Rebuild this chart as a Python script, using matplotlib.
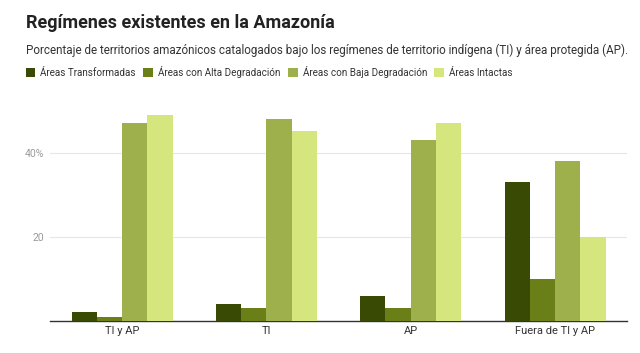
import matplotlib.pyplot as plt
import numpy as np

plt.rcParams['font.family'] = ['Roboto', 'DejaVu Sans']

# --------------------------------------------------------------
# Data (percent of territory)
# --------------------------------------------------------------
categories = ['TI y AP', 'TI', 'AP', 'Fuera de TI y AP']
series_names = ['Áreas Transformadas', 'Áreas con Alta Degradación',
                'Áreas con Baja Degradación', 'Áreas Intactas']
transformadas = [2, 4, 6, 33]
alta_degradacion = [1, 3, 3, 10]
baja_degradacion = [47, 48, 43, 38]
intactas = [49, 45, 47, 20]
series_values = [transformadas, alta_degradacion, baja_degradacion, intactas]
colors = ['#394a05', '#6a7f18', '#9db04b', '#d5e67f']

fig = plt.figure(figsize=(6.4, 3.53), dpi=100)
ax = fig.add_axes([0.078, 0.091, 0.902, 0.62])

x = np.arange(len(categories))
n = len(series_names)
width = 0.7 / n
bars = []
for i, (name, vals) in enumerate(zip(series_names, series_values)):
    offset = (i - (n - 1) / 2) * width
    b = ax.bar(x + offset, vals, width, color=colors[i], label=name, zorder=3)
    bars.append(b)

ax.set_xlim(-0.5, len(categories) - 0.5)
ax.set_ylim(0, 52)
ax.set_yticks([20, 40])
ax.set_yticklabels(['20', '40%'])
ax.grid(axis='y', color='#e6e6e6', linewidth=0.8, zorder=0)
for s in ['top', 'right', 'left']:
    ax.spines[s].set_visible(False)
ax.spines['bottom'].set_color('#333333')
ax.spines['bottom'].set_linewidth(1.0)
ax.tick_params(axis='y', length=0, labelsize=7.5, labelcolor='#9a9a9a', pad=4)
ax.tick_params(axis='x', length=0, labelsize=8, labelcolor='#333333', pad=4)
ax.set_xticks(x)
ax.set_xticklabels(categories)

fig.text(0.04, 0.935, 'Regímenes existentes en la Amazonía', fontsize=13,
         fontweight='bold', color='#222222', va='center')
fig.text(0.04, 0.858, 'Porcentaje de territorios amazónicos catalogados bajo los regímenes '
         'de territorio indígena (TI) y área protegida (AP).', fontsize=8.35,
         color='#333333', va='center')

fig.legend(handles=bars, labels=series_names, loc='center left',
           bbox_to_anchor=(0.026, 0.797), ncol=4, frameon=False, fontsize=7.1,
           handlelength=1.0, handleheight=1.0, handletextpad=0.5,
           columnspacing=0.75, labelcolor='#333333')

fig.savefig('out.png', dpi=100)
